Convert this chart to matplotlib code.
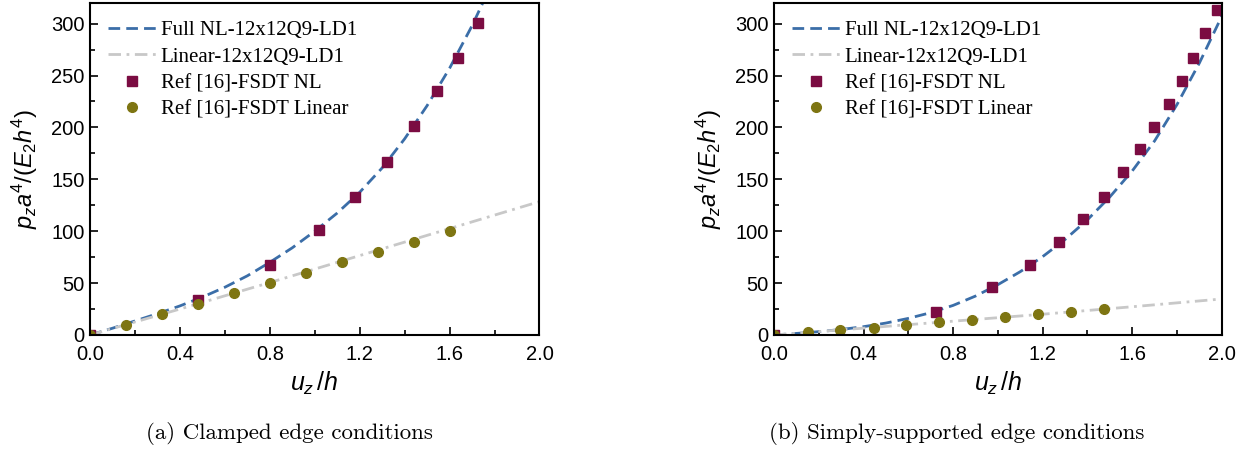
import numpy as np
import matplotlib
matplotlib.use("Agg")
import matplotlib.pyplot as plt
from matplotlib.ticker import MultipleLocator

plt.rcParams['font.family'] = ['Liberation Sans', 'DejaVu Sans']
plt.rcParams['mathtext.fontset'] = 'custom'
plt.rcParams['mathtext.it'] = 'Liberation Sans:italic'
plt.rcParams['mathtext.rm'] = 'Liberation Sans'

# (a) clamped
a_fem_x = [0.0, 0.1, 0.2, 0.3, 0.4, 0.5, 0.6, 0.7, 0.8, 0.9, 1.0, 1.1, 1.2, 1.3, 1.4, 1.5, 1.6, 1.7, 1.75, 1.8]
a_fem_nl = [0, 6.5, 13.5, 20.5, 28, 36.5, 46, 57, 70, 84, 100, 117.5, 137.5, 161, 189, 221, 257, 298, 321, 345]
a_lin_x = [0.0, 0.4, 0.8, 1.2, 1.6, 2.0]
a_fem_lin = [0, 25, 50.5, 76.5, 102.5, 128.5]
a_ref_nl_x = [0.0, 0.48, 0.80, 1.02, 1.18, 1.32, 1.44, 1.545, 1.636, 1.725]
a_ref_nl = [0, 33.7, 67.5, 101, 133, 167, 201, 235, 267, 301]
a_ref_lin_x = [0.0, 0.16, 0.32, 0.48, 0.64, 0.80, 0.96, 1.12, 1.28, 1.44, 1.60]
a_ref_lin = [0, 10, 20, 30, 40, 50, 60, 70, 80, 90, 100]

# (b) simply-supported
b_fem_x = [0.0, 0.1, 0.2, 0.3, 0.4, 0.5, 0.6, 0.7, 0.8, 0.9, 1.0, 1.1, 1.2, 1.3, 1.4, 1.5, 1.6, 1.7, 1.8, 1.9, 2.0]
b_fem_nl = [0, 1.5, 3.2, 5.3, 8, 11.5, 16, 21.5, 28.5, 37.5, 48.5, 61, 75.5, 92, 111, 133, 158, 187, 222, 262, 307]
b_lin_x = [0.0, 0.4, 0.8, 1.2, 1.6, 2.0]
b_fem_lin = [0, 6.6, 13.3, 20, 27.2, 34.7]
b_ref_nl_x = [0.0, 0.722, 0.972, 1.144, 1.275, 1.380, 1.473, 1.561, 1.634, 1.699, 1.765, 1.821, 1.873, 1.927, 1.981]
b_ref_nl = [0, 22.5, 45.9, 67.1, 89.3, 111.5, 133.3, 156.8, 178.9, 200.4, 222.9, 245.1, 266.9, 290.7, 312.9]
b_ref_lin_x = [0.0, 0.150, 0.296, 0.445, 0.591, 0.739, 0.886, 1.033, 1.181, 1.328, 1.476]
b_ref_lin = [0, 2.6, 4.8, 7.1, 10.0, 12.2, 14.8, 17.3, 19.9, 22.2, 24.7]

blue = '#3B6EA8'
grey = '#C8C8C8'
maroon = '#7B0C42'
olive = '#7E7512'

fig = plt.figure(figsize=(12.59, 4.5), dpi=100)
ax1 = fig.add_axes([0.0715, 0.2556, 0.357, 0.738])
ax2 = fig.add_axes([0.6148, 0.2556, 0.3556, 0.738])

panels = [
    (ax1, a_fem_x, a_fem_nl, a_lin_x, a_fem_lin, a_ref_nl_x, a_ref_nl, a_ref_lin_x, a_ref_lin),
    (ax2, b_fem_x, b_fem_nl, b_lin_x, b_fem_lin, b_ref_nl_x, b_ref_nl, b_ref_lin_x, b_ref_lin),
]

for ax, fx, fnl, lx, flin, rnx, rnl, rlx, rlin in panels:
    ax.plot(fx, fnl, color=blue, lw=2, dashes=(4.2, 2.2), label='Full NL-12x12Q9-LD1')
    ax.plot(lx, flin, color=grey, lw=2, dashes=(4.5, 2, 1, 2), label='Linear-12x12Q9-LD1')
    ax.plot(rnx, rnl, ls='none', marker='s', ms=6.5, color=maroon, label='Ref [16]-FSDT NL')
    ax.plot(rlx, rlin, ls='none', marker='o', ms=7, color=olive, label='Ref [16]-FSDT Linear')
    ax.set_xlim(0, 2.0)
    ax.set_ylim(0, 320)
    ax.xaxis.set_major_locator(MultipleLocator(0.4))
    ax.xaxis.set_minor_locator(MultipleLocator(0.2))
    ax.yaxis.set_major_locator(MultipleLocator(50))
    ax.yaxis.set_minor_locator(MultipleLocator(25))
    ax.xaxis.set_major_formatter(plt.FuncFormatter(lambda v, p: f'{v:.1f}'))
    ax.tick_params(which='both', direction='in', labelsize=14.5, width=1.2)
    ax.tick_params(axis='x', pad=7.5)
    ax.tick_params(axis='y', pad=4)
    ax.tick_params(which='major', length=6)
    ax.tick_params(which='minor', length=3.5)
    for s in ax.spines.values():
        s.set_linewidth(1.5)
    ax.set_xlabel(r'$u_z\,/h$', fontsize=18, labelpad=4)
    ax.set_ylabel(r'$p_za^4/(E_2h^4)$', fontsize=17, labelpad=8)
    ax.legend(loc='upper left', frameon=False, prop={'family': 'Liberation Serif', 'size': 15},
              handlelength=2.35, handletextpad=0.2, labelspacing=0.33, borderaxespad=0.45)

fig.text(0.230, 0.025, '(a) Clamped edge conditions', fontfamily='cmr10', fontsize=16.5, ha='center')
fig.text(0.760, 0.025, '(b) Simply-supported edge conditions', fontfamily='cmr10', fontsize=16.5, ha='center')

fig.savefig('out.png', dpi=100)
